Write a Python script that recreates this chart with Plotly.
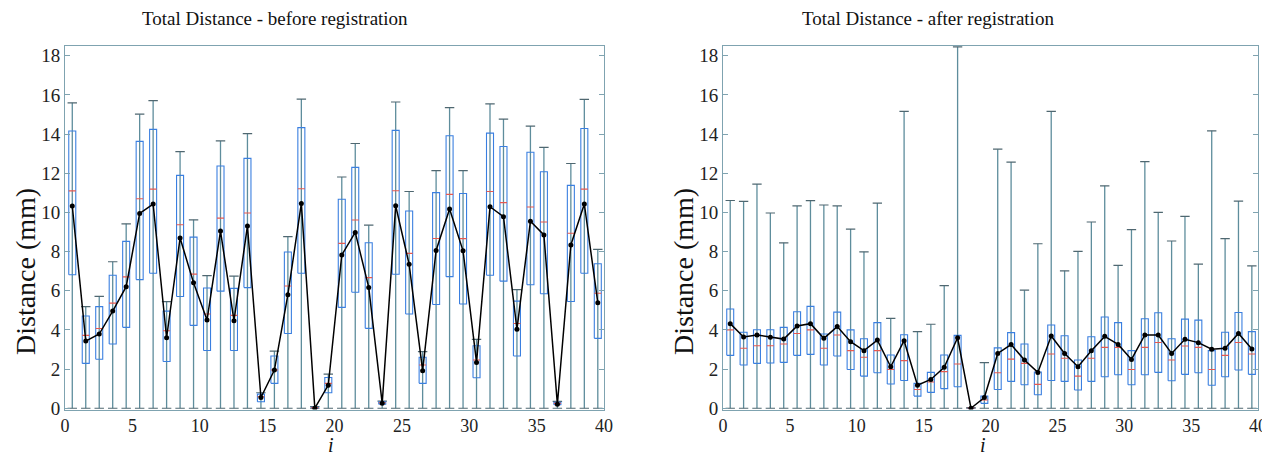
import plotly.graph_objects as go

# ---------------- data ----------------
idx = list(range(1, 41))

before_max = [15.6, 5.19, 5.71, 7.48, 9.42, 15.02, 15.71, 5.44, 13.11, 9.62,
              6.77, 13.65, 6.75, 14.02, 0.79, 2.92, 8.76, 15.79, 0.08, 1.74,
              11.81, 13.52, 9.35, 0.36, 15.64, 11.07, 2.89, 12.13, 15.35, 12.13,
              3.52, 15.54, 14.77, 6.06, 14.41, 13.32, 0.35, 12.50, 15.77, 8.11]
before_q3 = [14.16, 4.71, 5.19, 6.79, 8.52, 13.63, 14.24, 4.96, 11.89, 8.74,
             6.14, 12.37, 6.12, 12.76, 0.72, 2.67, 7.98, 14.33, 0.05, 1.57,
             10.67, 12.30, 8.45, 0.33, 14.19, 10.07, 2.60, 11.01, 13.92, 10.97,
             3.19, 14.05, 13.37, 5.47, 13.07, 12.08, 0.30, 11.38, 14.29, 7.38]
before_med = [11.1, 3.72, 4.07, 5.37, 6.71, 10.7, 11.19, 3.96, 9.37, 6.85,
              4.81, 9.71, 4.74, 9.97, 0.59, 1.95, 6.24, 11.21, 0.03, 1.27,
              8.42, 9.61, 6.67, 0.28, 11.11, 7.91, 2.21, 8.67, 10.92, 8.66,
              2.46, 11.07, 10.50, 4.33, 10.28, 9.51, 0.25, 8.94, 11.19, 5.87]
before_q1 = [6.82, 2.29, 2.50, 3.28, 4.13, 6.57, 6.89, 2.39, 5.71, 4.23,
             2.95, 5.98, 2.95, 6.16, 0.33, 1.27, 3.82, 6.89, 0.01, 0.79,
             5.15, 5.92, 4.08, 0.20, 6.84, 4.81, 1.27, 5.30, 6.72, 5.32,
             1.56, 6.79, 6.49, 2.67, 6.31, 5.85, 0.18, 5.45, 6.89, 3.57]
before_mean = [10.33, 3.43, 3.79, 4.96, 6.21, 9.95, 10.43, 3.60, 8.69, 6.41,
               4.50, 9.05, 4.47, 9.31, 0.55, 1.95, 5.80, 10.46, 0.0, 1.18,
               7.83, 8.98, 6.17, 0.25, 10.34, 7.35, 1.92, 8.06, 10.17, 8.04,
               2.34, 10.29, 9.78, 4.03, 9.55, 8.85, 0.20, 8.34, 10.43, 5.39]

after_max = [10.61, 10.56, 11.45, 9.97, 8.45, 10.33, 10.6, 10.38, 10.33, 9.15,
             7.99, 10.48, 4.59, 15.16, 3.91, 4.29, 6.26, 18.46, 0.03, 2.33,
             13.23, 12.57, 6.03, 8.40, 15.16, 7.02, 8.01, 9.51, 11.36, 7.30,
             9.12, 12.59, 10.0, 8.54, 9.80, 7.36, 14.17, 8.66, 10.58, 7.27]
after_q3 = [5.07, 3.88, 4.01, 4.01, 4.13, 4.93, 5.20, 3.79, 4.91, 4.0,
            3.55, 4.37, 2.72, 3.75, 1.27, 1.83, 2.72, 3.72, 0.02, 0.62,
            3.08, 3.86, 3.28, 1.85, 4.25, 3.70, 2.46, 3.65, 4.66, 4.37,
            2.94, 4.57, 4.88, 3.55, 4.55, 4.50, 2.94, 3.88, 4.89, 3.91]
after_med = [4.0, 3.06, 3.19, 3.19, 3.28, 3.82, 4.0, 3.06, 3.74, 2.94,
             2.60, 2.94, 1.98, 2.43, 0.96, 1.34, 1.87, 2.26, 0.01, 0.42,
             1.81, 2.51, 2.29, 1.22, 2.77, 2.55, 1.64, 2.55, 3.11, 3.11,
             1.98, 3.11, 3.36, 2.46, 3.18, 3.11, 1.98, 2.70, 3.36, 2.77]
after_q1 = [2.70, 2.21, 2.29, 2.31, 2.34, 2.70, 2.75, 2.21, 2.67, 1.98,
            1.64, 1.81, 1.24, 1.42, 0.62, 0.81, 1.0, 1.10, 0.0, 0.25,
            0.96, 1.37, 1.20, 0.69, 1.42, 1.37, 0.93, 1.37, 1.61, 1.71,
            1.20, 1.71, 1.83, 1.40, 1.73, 1.81, 1.17, 1.61, 1.95, 1.73]
after_mean = [4.32, 3.64, 3.74, 3.62, 3.53, 4.20, 4.32, 3.57, 4.17, 3.40,
              2.94, 3.48, 2.12, 3.45, 1.18, 1.47, 2.09, 3.60, 0.0, 0.55,
              2.80, 3.25, 2.46, 1.83, 3.69, 2.80, 2.12, 2.94, 3.67, 3.26,
              2.49, 3.74, 3.74, 2.80, 3.52, 3.35, 3.01, 3.06, 3.82, 3.02]

titles = ["Total Distance - before registration", "Total Distance - after registration"]
y_title = "Distance (mm)"
x_title = "i"
y_ticks = [0, 2, 4, 6, 8, 10, 12, 14, 16, 18]
x_ticks = [0, 5, 10, 15, 20, 25, 30, 35, 40]

# ---------------- style ----------------
FONT = "'Liberation Serif', 'Times New Roman', Times, 'DejaVu Serif', serif"
OFFSET = 0.46
BOXW = 0.52
CAPW = 0.7
WHISK_C = "#5e8d9c"
CAP_C = "#4f6770"
BOX_C = "#3a7fe0"
MED_C = "#e8584f"
AX_C = "#7fa3b0"

# the page body has an 8px margin: size the figure to the remaining window
PAGE_M = 8
W, H = 1270 - PAGE_M, 457 - PAGE_M


def px(xpix):
    return (xpix - PAGE_M) / W


def py(ypix):
    return 1 - (ypix - PAGE_M) / H


fig = go.Figure()


def add_panel(xa, ya, vmax, q3, med, q1, mean):
    pos = [i - OFFSET for i in idx]
    wx, wy, cx, cy, bx, by, mx, my = [], [], [], [], [], [], [], []
    for p, hi, t, m, b in zip(pos, vmax, q3, med, q1):
        wx += [p, p, None]
        wy += [0, hi, None]
        cx += [p - CAPW / 2, p + CAPW / 2, None, p - CAPW / 2, p + CAPW / 2, None]
        cy += [hi, hi, None, 0, 0, None]
        bx += [p - BOXW / 2, p + BOXW / 2, p + BOXW / 2, p - BOXW / 2, p - BOXW / 2, None]
        by += [b, b, t, t, b, None]
        mx += [p - BOXW / 2, p + BOXW / 2, None]
        my += [m, m, None]
    common = dict(xaxis=xa, yaxis=ya, mode="lines", hoverinfo="skip", showlegend=False)
    fig.add_trace(go.Scatter(x=wx, y=wy, line=dict(color=WHISK_C, width=1.3), **common))
    fig.add_trace(go.Scatter(x=cx, y=cy, line=dict(color=CAP_C, width=1.2), **common))
    fig.add_trace(go.Scatter(x=bx, y=by, line=dict(color=BOX_C, width=1.1), **common))
    fig.add_trace(go.Scatter(x=mx, y=my, line=dict(color=MED_C, width=1.1), **common))
    fig.add_trace(go.Scatter(x=pos, y=mean, xaxis=xa, yaxis=ya, mode="lines+markers",
                             line=dict(color="black", width=1.5),
                             marker=dict(color="black", size=5),
                             showlegend=False))


add_panel("x", "y", before_max, before_q3, before_med, before_q1, before_mean)
add_panel("x2", "y2", after_max, after_q3, after_med, after_q1, after_mean)

ydom = [py(409.6), py(46)]
xdoms = [[px(65), px(604)], [px(723), px(1258)]]

axis_x = dict(range=[0, 40], tickvals=x_ticks, ticks="", showgrid=False, zeroline=False,
              showline=True, mirror=True, linecolor=AX_C, linewidth=1, automargin=False,
              tickfont=dict(family=FONT, size=18, color="#222"))
axis_y = dict(range=[-0.07, 18.5], tickvals=y_ticks, ticks="inside", ticklen=5,
              tickcolor=AX_C, showgrid=False, zeroline=False, automargin=False,
              showline=True, mirror="ticks", linecolor=AX_C, linewidth=1,
              tickfont=dict(family=FONT, size=19, color="#222"))

fig.update_layout(
    width=W, height=H, autosize=False,
    margin=dict(l=0, r=0, t=0, b=0, autoexpand=False),
    font=dict(family=FONT),
    paper_bgcolor="white", plot_bgcolor="white",
    xaxis=dict(domain=xdoms[0], anchor="y", **axis_x),
    yaxis=dict(domain=ydom, anchor="x", **axis_y),
    xaxis2=dict(domain=xdoms[1], anchor="y2", **axis_x),
    yaxis2=dict(domain=ydom, anchor="x2", **axis_y),
)

title_x = [px(275), px(927.5)]
ylab_x = [px(25), px(683)]
xlab_x = [px(331), px(983)]
for k in range(2):
    fig.add_annotation(text=titles[k], x=title_x[k], y=py(18), xref="paper", yref="paper",
                       showarrow=False, font=dict(family=FONT, size=19, color="#111"),
                       xanchor="center", yanchor="middle")
    fig.add_annotation(text=y_title, x=ylab_x[k], y=py(272), xref="paper", yref="paper",
                       showarrow=False, textangle=-90,
                       font=dict(family=FONT, size=28, color="#111"),
                       xanchor="center", yanchor="middle")
    fig.add_annotation(text="<i>" + x_title + "</i>", x=xlab_x[k], y=py(457),
                       xref="paper", yref="paper", showarrow=False, borderpad=0,
                       font=dict(family=FONT, size=20, color="#111"),
                       xanchor="center", yanchor="bottom")

fig.write_html("out.html")
